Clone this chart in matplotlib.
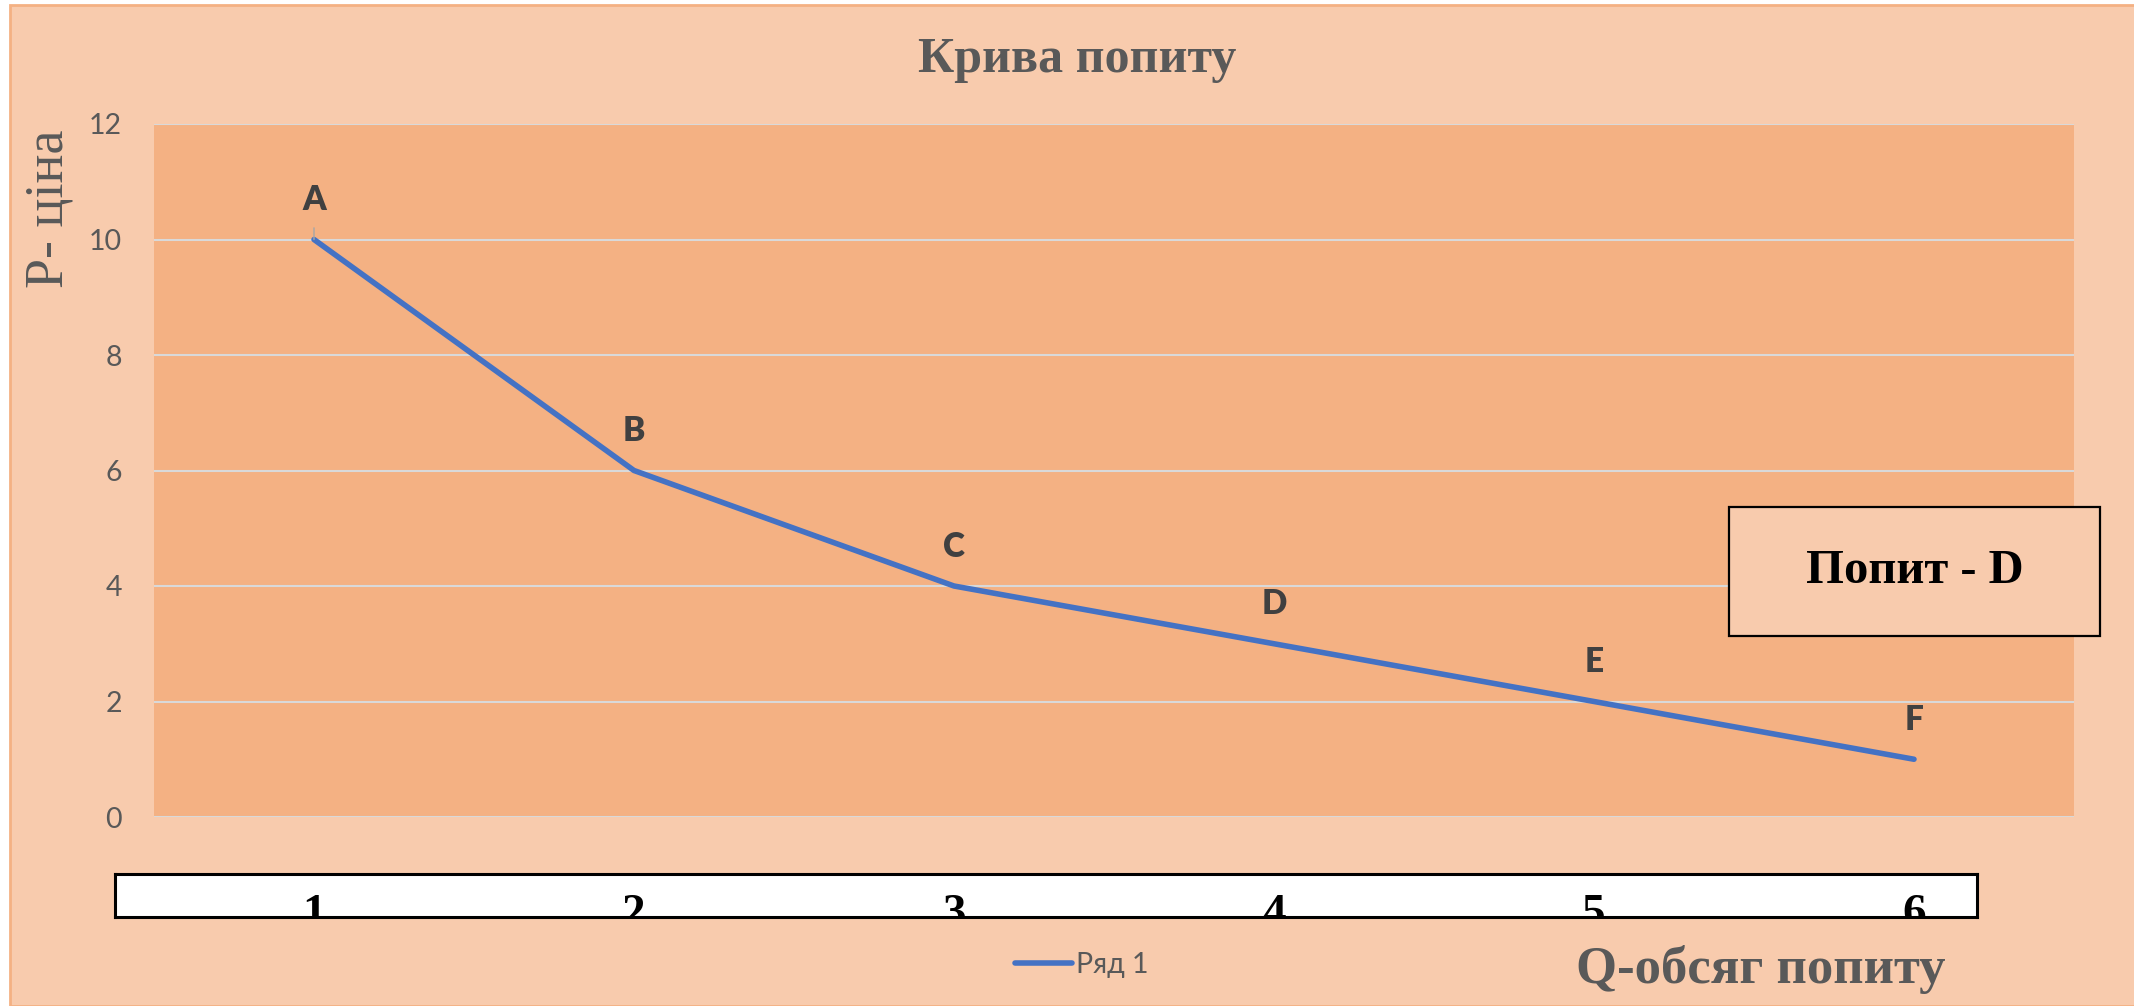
import matplotlib.pyplot as plt
from matplotlib.patches import Rectangle
from matplotlib.transforms import blended_transform_factory

quantity = [1, 2, 3, 4, 5, 6]
price = [10, 6, 4, 3, 2, 1]
point_labels = ["A", "B", "C", "D", "E", "F"]
q_labels = ["1", "2", "3", "4", "5", "6"]
y_ticks = [0, 2, 4, 6, 8, 10, 12]
series_name = "Ряд 1"

W, H = 2134, 1006
fig = plt.figure(figsize=(W / 100, H / 100), dpi=100, facecolor="white")

# chart area background
fig.patches.append(Rectangle((10 / W, 0), 1, 1 - 5 / H, transform=fig.transFigure,
                             facecolor="#F8CBAD", edgecolor="#F4B183", linewidth=2, zorder=-10))

ax = fig.add_axes([154 / W, 1 - 817 / H, 1920 / W, 693 / H])
ax.set_facecolor("#F4B183")
for s in ax.spines.values():
    s.set_visible(False)
ax.set_xlim(0.5, 6.5)
ax.set_ylim(0, 12)
ax.set_yticks(y_ticks)
ax.set_xticks([])
ax.tick_params(axis="y", length=0, pad=23, labelsize=20.5, labelcolor="#595959")
for lbl in ax.get_yticklabels():
    lbl.set_family("Lato")
ax.grid(axis="y", color="#D9D9D9", linewidth=1.5)
ax.set_axisbelow(True)

line, = ax.plot(quantity, price, color="#4472C4", linewidth=4,
                solid_capstyle="round", solid_joinstyle="round", label=series_name)

for i, name in enumerate(point_labels):
    if i == 0:
        ax.annotate(name, (quantity[i], price[i]), xytext=(0, 21.2), textcoords="offset points",
                    ha="center", va="baseline", fontsize=24, fontweight="heavy",
                    family="Lato", color="#404040",
                    arrowprops=dict(arrowstyle="-", color="#A6A6A6", lw=1, shrinkA=6.5, shrinkB=0))
    else:
        ax.annotate(name, (quantity[i], price[i]), xytext=(0, 21.2), textcoords="offset points",
                    ha="center", va="baseline", fontsize=24, fontweight="heavy",
                    family="Lato", color="#404040")

# box with quantity numbers
ax2 = fig.add_axes([115 / W, 1 - 917 / H, 1862 / W, 43 / H])
ax2.set_facecolor("white")
ax2.set_xticks([])
ax2.set_yticks([])
for s in ax2.spines.values():
    s.set_linewidth(2.2)
    s.set_color("black")
trans = blended_transform_factory(ax.transData, ax2.transAxes)
for q, lab in zip(quantity, q_labels):
    ax2.text(q, -0.2, lab, transform=trans, ha="center", va="baseline",
             fontsize=34, fontweight="bold", family="Liberation Serif",
             color="black", clip_on=True)

# "Попит - D" box
fig.text(1915 / W, 1 - 571 / H, "Попит - D", ha="center", va="center",
         fontsize=35, fontweight="bold", family="Liberation Serif", color="black")
fig.patches.append(Rectangle((1729 / W, 1 - 636 / H), 371 / W, 129 / H, transform=fig.transFigure,
                             facecolor="#F8CBAD", edgecolor="black", linewidth=1.6, zorder=1))

fig.text(1077 / W, 1 - 72 / H, "Крива попиту", ha="center", va="baseline",
         fontsize=36, fontweight="bold", family="Liberation Serif", color="#595959")
fig.text(49 / W, 1 - 209 / H, "P- ціна", ha="center", va="center", rotation=90,
         fontsize=39, family="Liberation Serif", color="#595959")
fig.text(1761 / W, 1 - 983 / H, "Q-обсяг попиту", ha="center", va="baseline",
         fontsize=38, fontweight="bold", family="Liberation Serif", color="#595959")

leg = ax.legend(loc="center left", bbox_to_anchor=(1015 / W, 1 - 965 / H),
                bbox_transform=fig.transFigure, frameon=False, borderpad=0,
                borderaxespad=0, handlelength=2.0, handletextpad=0.15,
                prop={"family": "Lato", "size": 20.5})
for t in leg.get_texts():
    t.set_color("#595959")

fig.savefig("out.png", dpi=100, facecolor=fig.get_facecolor())
